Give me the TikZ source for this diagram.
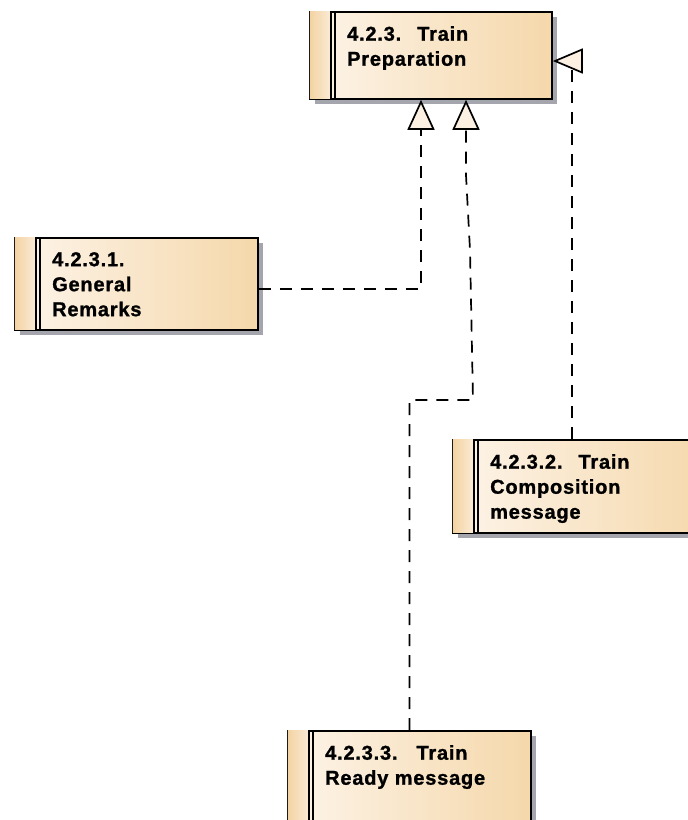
\documentclass[tikz,border=0pt]{standalone}
\usepackage{fontspec}
\newfontfamily\classfont[LetterSpace=4,FakeBold=1.2]{Liberation Sans}
\usetikzlibrary{arrows.meta,calc,positioning}
\definecolor{classleft}{HTML}{FDF4E9}
\definecolor{classright}{HTML}{F5D8AB}
\definecolor{bandleft}{HTML}{F3D3A3}
\definecolor{bandright}{HTML}{FBEBD6}
\definecolor{shadowgray}{HTML}{A5A6AD}
\definecolor{tipfill}{HTML}{FBF0E1}
\def\shadowoffset{6}
\def\bandwidth{22}
\def\textinset{38}

\tikzset{
  classbox/.style={draw=black, line width=1.8pt, rectangle, inner sep=0, left color=classleft, right color=classright, anchor=north west},
  classtext/.style={inner sep=0, anchor=north west, align=left, font=\classfont\bfseries\fontsize{20}{25}\selectfont},
  dashline/.style={line width=1.7pt, dash pattern=on 12pt off 9pt},
  realize/.style={dashline, -{Triangle[length=30pt, width=27pt, fill=tipfill]}},
  tipline/.style={line width=1.7pt, -{Triangle[length=30pt, width=25pt, fill=tipfill]}}
}

% name, x, y, width, height, text
\newcommand{\classelement}[6]{%
  \fill[shadowgray] ($(#2,#3)+(\shadowoffset,-\shadowoffset)$) rectangle ++(#4,-#5);
  \node[classbox, minimum width=#4, minimum height=#5] (#1) at (#2,#3) {};
  \shade[left color=bandleft, right color=bandright] ($(#1.north west)+(0.9,-0.9)$) rectangle ($(#1.south west)+(\bandwidth,0.9)$);
  \draw[line width=1.1pt] ($(#1.north west)+(\bandwidth,0)$) -- ($(#1.south west)+(\bandwidth,0)$);
  \draw[line width=1.1pt] ($(#1.north west)+(\bandwidth+4,0)$) -- ($(#1.south west)+(\bandwidth+4,0)$);
  \node[classtext] (#1-text) at ($(#1.north west)+(\textinset,-15)$) {#6};
}

\begin{document}
\begin{tikzpicture}[x=1pt,y=1pt]
  \useasboundingbox (0,0) rectangle (688,-820);

  \classelement{prep}{309}{-11}{242}{87}{4.2.3.\hspace{16pt}Train\\Preparation}
  \classelement{general}{14}{-237}{243}{92}{4.2.3.1.\\General\\Remarks}
  \classelement{comp}{452}{-439}{260}{93}{4.2.3.2.\hspace{16pt}Train\\Composition\\message}
  \classelement{ready}{287}{-730}{243}{110}{4.2.3.3.\hspace{19pt}Train\\Ready message}

  % General Remarks
  \coordinate (gr-bend) at (421,-289);
  \draw[realize] (general.east |- gr-bend) -- (gr-bend) -- (gr-bend |- prep.south);

  % Ready message
  \coordinate (rm-low) at (409,-400);
  \coordinate (rm-right) at (473,-400);
  \coordinate (rm-kink) at (470,-250);
  \coordinate (rm-top) at (466,-175);
  \draw[realize] (ready.north) -- (ready.north |- rm-low) -- (rm-right) -- (rm-kink) -- (rm-top) -- (rm-top |- prep.south);

  % Composition message
  \coordinate (tc-bend) at (572,-61);
  \draw[dashline] (comp.north -| tc-bend) -- (tc-bend);
  \draw[tipline] ($(tc-bend)+(11,0)$) -- (prep.east |- tc-bend);
\end{tikzpicture}
\end{document}
